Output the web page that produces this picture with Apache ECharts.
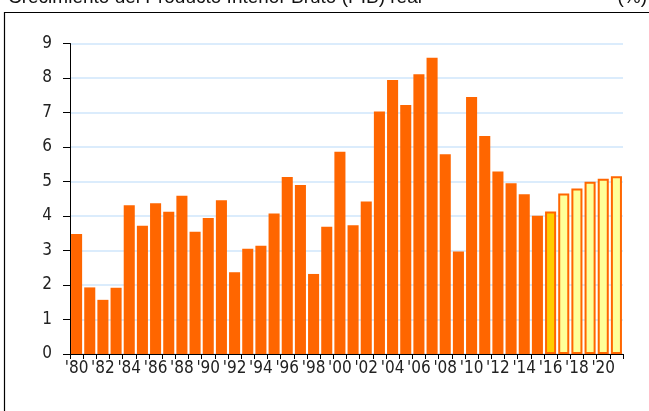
<!DOCTYPE html>
<html>
<head>
<meta charset="utf-8">
<script src="https://cdn.jsdelivr.net/npm/echarts@6/dist/echarts.min.js"></script>
<style>
  html, body { margin: 0; padding: 0; background: #fff; }
  #pib_chart { width: 649px; height: 411px; }
</style>
</head>
<body>
<div id="pib_chart"></div>
<script>
// años 1980-2021
const years = ["'80", "'81", "'82", "'83", "'84", "'85", "'86", "'87", "'88", "'89",
  "'90", "'91", "'92", "'93", "'94", "'95", "'96", "'97", "'98", "'99",
  "'00", "'01", "'02", "'03", "'04", "'05", "'06", "'07", "'08", "'09",
  "'10", "'11", "'12", "'13", "'14", "'15", "'16", "'17", "'18", "'19",
  "'20", "'21"];
const growth = [3.48, 1.93, 1.57, 1.92, 4.31, 3.72, 4.37, 4.12, 4.59, 3.54,
  3.94, 4.46, 2.37, 3.05, 3.14, 4.07, 5.13, 4.90, 2.32, 3.69,
  5.86, 3.73, 4.42, 7.03, 7.94, 7.22, 8.11, 8.59, 5.79, 2.97,
  7.45, 6.32, 5.29, 4.95, 4.63, 4.01, 4.13, 4.65, 4.80, 4.99,
  5.08, 5.15];
// '16 estimado, '17 en adelante proyección
const estimateYears = ["'16"];
const forecastYears = ["'17", "'18", "'19", "'20", "'21"];
const yTicks = [0, 1, 2, 3, 4, 5, 6, 7, 8, 9];

const font = "'Liberation Sans Narrow', 'DejaVu Sans Condensed', 'Liberation Sans', Arial, sans-serif";

const barData = growth.map(function (v, i) {
  const y = years[i];
  if (estimateYears.indexOf(y) >= 0) {
    return { value: v, itemStyle: { color: "#ffcc00", borderColor: "#ff6600", borderWidth: 2 } };
  }
  if (forecastYears.indexOf(y) >= 0) {
    return { value: v, itemStyle: { color: "#ffff99", borderColor: "#ff6600", borderWidth: 2 } };
  }
  return v;
});

const option = {
  animation: false,
  grid: { left: 70, right: 26, top: 43.5, bottom: 57 },
  graphic: [
    {
      type: "rect",
      shape: { x: 4.5, y: 12.5, width: 800, height: 600 },
      style: { fill: "none", stroke: "#000", lineWidth: 1.2 }
    },
    {
      type: "text",
      left: 8,
      top: -12,
      style: { text: "Crecimiento del Producto Interior Bruto (PIB) real", font: "19px 'Liberation Sans', Arial, sans-serif", fill: "#111" }
    },
    {
      type: "text",
      right: 2,
      top: -12,
      style: { text: "(%)", font: "19px 'Liberation Sans', Arial, sans-serif", fill: "#111" }
    }
  ],
  xAxis: {
    type: "category",
    data: years,
    boundaryGap: true,
    axisLine: { lineStyle: { color: "#000", width: 1 } },
    axisTick: { show: true, interval: 0, length: 5, lineStyle: { color: "#000" } },
    axisLabel: { interval: 1, margin: 6, fontFamily: font, fontSize: 17, color: "#222" }
  },
  yAxis: {
    type: "value",
    min: yTicks[0],
    max: yTicks[yTicks.length - 1],
    interval: 1,
    axisLine: { show: true, lineStyle: { color: "#000", width: 1 } },
    axisTick: { show: true, length: 7, lineStyle: { color: "#000" } },
    axisLabel: { margin: 18, fontFamily: font, fontSize: 17, color: "#222" },
    splitLine: { lineStyle: { color: "#cfe6fb", width: 1.5 } }
  },
  series: [
    {
      type: "bar",
      data: barData,
      barCategoryGap: "16%",
      itemStyle: { color: "#ff6600" }
    }
  ]
};

const chart = echarts.init(document.getElementById("pib_chart"));
chart.setOption(option);
</script>
</body>
</html>
